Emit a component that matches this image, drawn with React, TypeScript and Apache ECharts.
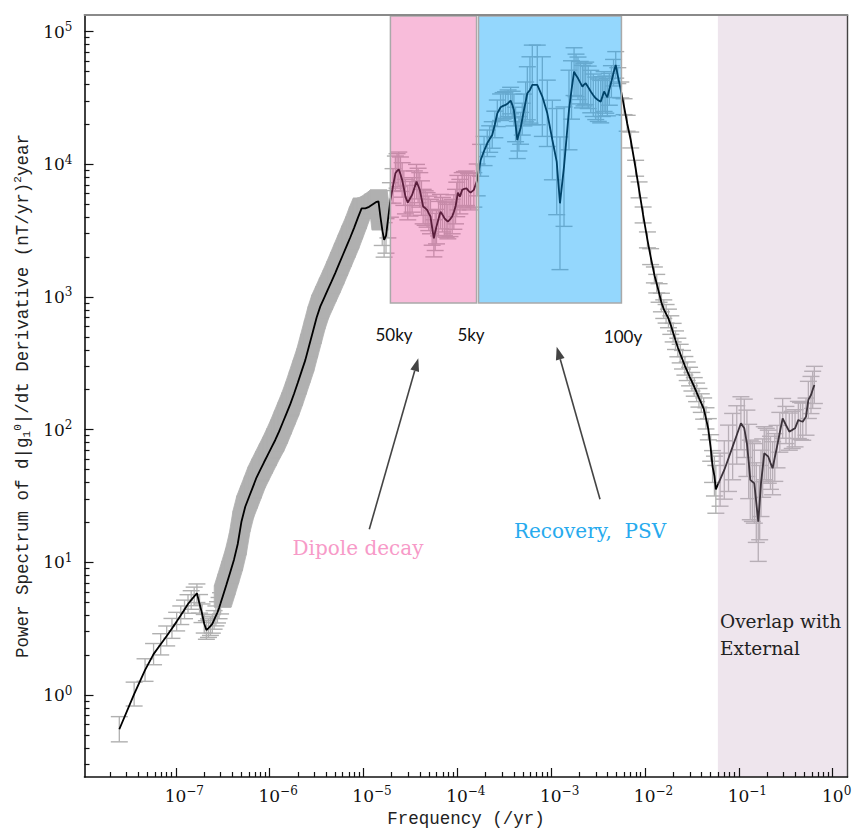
import React, { useEffect, useRef } from "react";
import * as echarts from "echarts";

// ---- Data (log10 of frequency in /yr, log10 of power, error half-width in decades) ----
const riseFreq = [
  -7.602, -7.444, -7.328, -7.237, -7.161, -7.097, -7.041, -6.991, -6.947, -6.907,
  -6.870, -6.836, -6.804, -6.775, -6.747, -6.721, -6.697, -6.674, -6.652, -6.631,
  -6.611, -6.592, -6.573, -6.556, -6.539, -6.523, -6.50, -6.46, -6.42, -6.38,
  -6.34, -6.30, -6.26, -6.22, -6.18, -6.14, -6.10, -6.06, -6.02, -5.98,
  -5.94, -5.90, -5.86, -5.82, -5.78, -5.74, -5.70, -5.66, -5.62, -5.58,
  -5.54, -5.50, -5.46, -5.42, -5.38, -5.34, -5.30, -5.26, -5.22, -5.18,
  -5.14, -5.10, -5.06, -5.02, -4.98, -4.94, -4.90, -4.86, -4.84, -4.82,
  -4.80, -4.78, -4.76, -4.74,
];
const risePower = [
  -0.258, 0.007, 0.188, 0.308, 0.382, 0.445, 0.502, 0.553, 0.601, 0.645,
  0.686, 0.716, 0.743, 0.767, 0.687, 0.616, 0.537, 0.490, 0.504, 0.519,
  0.536, 0.566, 0.596, 0.623, 0.655, 0.691, 0.743, 0.833, 0.926, 1.020,
  1.138, 1.308, 1.419, 1.492, 1.565, 1.639, 1.697, 1.754, 1.810, 1.866,
  1.922, 1.985, 2.054, 2.123, 2.192, 2.270, 2.354, 2.439, 2.524, 2.630,
  2.736, 2.843, 2.929, 2.992, 3.055, 3.117, 3.182, 3.249, 3.316, 3.383,
  3.450, 3.521, 3.596, 3.668, 3.668, 3.679, 3.698, 3.717, 3.720, 3.607,
  3.508, 3.430, 3.460, 3.575,
];
const riseErr = [
  0.095, 0.09, 0.085, 0.08, 0.08, 0.075, 0.075, 0.07, 0.07, 0.07,
  0.07, 0.07, 0.07, 0.07, 0.07, 0.07, 0.07, 0.07, 0.07, 0.07,
  0.07, 0.07, 0.075, 0.08, 0.08, 0.08, 0.08, 0.08, 0.08, 0.08,
  0.08, 0.08, 0.08, 0.08, 0.08, 0.08, 0.08, 0.08, 0.08, 0.08,
  0.085, 0.085, 0.085, 0.085, 0.085, 0.085, 0.085, 0.085, 0.085, 0.085,
  0.085, 0.085, 0.085, 0.085, 0.085, 0.085, 0.085, 0.085, 0.085, 0.085,
  0.085, 0.08, 0.08, 0.075, 0.075, 0.075, 0.075, 0.075, 0.085, 0.1,
  0.12, 0.13, 0.13, 0.13,
];

const dipoleFreq = [
  -4.713, -4.685, -4.660, -4.642, -4.624, -4.606, -4.588, -4.570, -4.553, -4.528,
  -4.505, -4.482, -4.458, -4.435, -4.418, -4.400, -4.382, -4.364, -4.343, -4.322,
  -4.304, -4.286, -4.268, -4.250, -4.236, -4.222, -4.200, -4.179, -4.158, -4.137,
  -4.119, -4.101, -4.078, -4.055, -4.037, -4.019, -4.006, -3.994, -3.973, -3.948,
  -3.925, -3.902, -3.880, -3.859, -3.824, -3.788, -3.752,
];
const dipolePower = [
  3.731, 3.837, 3.932, 3.950, 3.962, 3.925, 3.882, 3.820, 3.756, 3.711,
  3.740, 3.769, 3.820, 3.869, 3.840, 3.807, 3.745, 3.681, 3.670, 3.656,
  3.630, 3.606, 3.520, 3.442, 3.490, 3.530, 3.590, 3.643, 3.620, 3.593,
  3.580, 3.568, 3.585, 3.606, 3.640, 3.681, 3.735, 3.786, 3.756, 3.807,
  3.815, 3.819, 3.800, 3.786, 3.807, 3.882, 4.030,
];
const dipoleErr = [
  0.13, 0.13, 0.13, 0.13, 0.13, 0.13, 0.13, 0.13, 0.13, 0.13,
  0.13, 0.13, 0.13, 0.13, 0.13, 0.13, 0.13, 0.13, 0.13, 0.13,
  0.13, 0.13, 0.13, 0.14, 0.14, 0.13, 0.13, 0.13, 0.13, 0.13,
  0.13, 0.13, 0.13, 0.13, 0.13, 0.13, 0.13, 0.13, 0.13, 0.13,
  0.13, 0.13, 0.13, 0.13, 0.13, 0.12, 0.12,
];

const recoveryFreq = [
  -3.715, -3.681, -3.655, -3.628, -3.600, -3.574, -3.539, -3.512, -3.486, -3.459,
  -3.432, -3.415, -3.397, -3.379, -3.361, -3.344, -3.326, -3.308, -3.290, -3.272,
  -3.254, -3.226, -3.201, -3.148, -3.094, -3.041, -2.987, -2.941, -2.906, -2.863,
  -2.810, -2.783, -2.756, -2.735, -2.714, -2.690, -2.667, -2.650, -2.632, -2.605,
  -2.578, -2.551, -2.525, -2.498, -2.472, -2.454, -2.436, -2.418, -2.401, -2.380,
  -2.358, -2.335, -2.312,
];
const recoveryPower = [
  4.10, 4.158, 4.19, 4.221, 4.30, 4.384, 4.430, 4.44, 4.447, 4.46,
  4.480, 4.45, 4.409, 4.30, 4.183, 4.23, 4.271, 4.34, 4.409, 4.47,
  4.535, 4.560, 4.598, 4.598, 4.510, 4.384, 4.183, 4.020, 3.706, 3.982,
  4.409, 4.56, 4.698, 4.67, 4.648, 4.615, 4.585, 4.60, 4.610, 4.58,
  4.548, 4.52, 4.497, 4.483, 4.472, 4.51, 4.548, 4.525, 4.505, 4.565,
  4.623, 4.69, 4.749,
];
const recoveryErr = [
  0.11, 0.1, 0.1, 0.1, 0.1, 0.1, 0.1, 0.1, 0.1, 0.1,
  0.1, 0.1, 0.12, 0.13, 0.14, 0.13, 0.12, 0.12, 0.12, 0.15,
  0.2, 0.25, 0.3, 0.3, 0.3, 0.25, 0.3, 0.4, 0.5, 0.45,
  0.3, 0.22, 0.18, 0.16, 0.16, 0.16, 0.16, 0.16, 0.16, 0.16,
  0.16, 0.16, 0.16, 0.16, 0.16, 0.15, 0.15, 0.14, 0.14, 0.12,
  0.12, 0.1, 0.1,
];

const falloffFreq = [
  -2.290, -2.258, -2.223, -2.190, -2.152, -2.100, -2.063, -2.020, -1.974, -1.940,
  -1.900, -1.875, -1.850, -1.825, -1.800, -1.775, -1.750, -1.725, -1.700, -1.675,
  -1.650, -1.625, -1.600, -1.575, -1.550, -1.525, -1.500, -1.475, -1.450, -1.425,
  -1.400, -1.375, -1.350, -1.325, -1.300, -1.280, -1.260, -1.245,
];
const falloffPower = [
  4.668, 4.560, 4.434, 4.309, 4.183, 3.970, 3.807, 3.618, 3.430, 3.304,
  3.166, 3.100, 3.030, 2.958, 2.908, 2.873, 2.838, 2.788, 2.731, 2.674,
  2.619, 2.573, 2.527, 2.481, 2.440, 2.400, 2.361, 2.322, 2.281, 2.240,
  2.200, 2.159, 2.085, 2.003, 1.862, 1.722, 1.650, 1.550,
];
const falloffErr = [
  0.06, 0.06, 0.06, 0.06, 0.06, 0.06, 0.06, 0.06, 0.06, 0.06,
  0.06, 0.07, 0.07, 0.07, 0.07, 0.07, 0.07, 0.07, 0.07, 0.07,
  0.07, 0.07, 0.07, 0.07, 0.07, 0.07, 0.07, 0.07, 0.07, 0.07,
  0.07, 0.08, 0.08, 0.08, 0.1, 0.12, 0.15, 0.18,
];

const externalFreq = [
  -1.200, -1.155, -1.110, -1.066, -1.022, -0.978, -0.942, -0.914, -0.895, -0.878,
  -0.856, -0.835, -0.814, -0.793, -0.778, -0.764, -0.746, -0.729, -0.708, -0.686,
  -0.663, -0.640, -0.617, -0.593, -0.563, -0.533, -0.498, -0.462, -0.431, -0.401,
  -0.366, -0.343, -0.319, -0.284, -0.259, -0.231, -0.213, -0.195,
];
const externalPower = [
  1.623, 1.696, 1.784, 1.872, 1.960, 2.048, 2.010, 1.897, 1.760, 1.621,
  1.608, 1.595, 1.450, 1.307, 1.450, 1.595, 1.710, 1.822, 1.810, 1.796,
  1.750, 1.709, 1.790, 1.872, 1.980, 2.085, 2.035, 1.985, 1.998, 2.010,
  2.073, 2.065, 2.060, 2.098, 2.224, 2.261, 2.300, 2.337,
];
const externalErr = [
  0.2, 0.22, 0.25, 0.25, 0.22, 0.2, 0.22, 0.25, 0.28, 0.3,
  0.3, 0.3, 0.3, 0.3, 0.28, 0.25, 0.22, 0.2, 0.2, 0.2,
  0.2, 0.2, 0.18, 0.16, 0.15, 0.15, 0.14, 0.14, 0.14, 0.14,
  0.14, 0.14, 0.14, 0.14, 0.14, 0.14, 0.14, 0.14,
];

// Shaded bands (log10 units)
const regionNames = ["Dipole decay", "Recovery, PSV", "Overlap with External"];
const regionStart = [-4.713, -3.774, -1.223];
const regionEnd = [-3.795, -2.251, 0.158];
const regionLow = [2.955, 2.955, -0.618];
const regionHigh = [5.118, 5.118, 5.125];

// Tick labels (decade exponents)
const xDecades = [-7, -6, -5, -4, -3, -2, -1, 0];
const yDecades = [0, 1, 2, 3, 4, 5];

// ---- Layout / style ----
const X_MIN = -7.973;
const X_MAX = 0.158;
const Y_MIN = -0.618;
const Y_MAX = 5.125;
const SERIF = "DejaVu Serif";
const MONO = "Liberation Mono";
const SOLID_FROM = -6.5;
const SOLID_TO = -4.84;
const BAR_COLOR = "#b0b0b0";
const CAP_HALF = 8.5;

const regionFill = ["rgba(237,79,158,0.38)", "rgba(0,160,250,0.42)", "rgba(200,170,195,0.3)"];
const regionStroke = ["#a9a9a9", "#a9a9a9", "none"];

function minorTicks(lo: number, hi: number) {
  const out: number[] = [];
  for (let n = Math.floor(lo); n <= Math.ceil(hi); n++) {
    for (let k = 2; k <= 9; k++) {
      const v = n + Math.log10(k);
      if (v > lo && v < hi) out.push(v);
    }
  }
  return out;
}

// Convex hull (monotone chain) used to fill the envelope swept by two neighbouring error bars
function hull(pts: number[][]) {
  const p = pts.slice().sort((a, b) => (a[0] - b[0]) || (a[1] - b[1]));
  const cross = (o: number[], a: number[], b: number[]) =>
    (a[0] - o[0]) * (b[1] - o[1]) - (a[1] - o[1]) * (b[0] - o[0]);
  const lower: number[][] = [];
  for (const q of p) {
    while (lower.length >= 2 && cross(lower[lower.length - 2], lower[lower.length - 1], q) <= 0) lower.pop();
    lower.push(q);
  }
  const upper: number[][] = [];
  for (let i = p.length - 1; i >= 0; i--) {
    const q = p[i];
    while (upper.length >= 2 && cross(upper[upper.length - 2], upper[upper.length - 1], q) <= 0) upper.pop();
    upper.push(q);
  }
  upper.pop();
  lower.pop();
  return lower.concat(upper);
}

const supText = (n: number) => (n < 0 ? "\u2212" + Math.abs(n) : String(n));

const labelRich = {
  b: { fontFamily: SERIF, fontSize: 17, color: "#111" },
  s: { fontFamily: SERIF, fontSize: 12, color: "#111", padding: [0, 0, 9, 0] },
  p1: { fontFamily: SERIF, fontSize: 12, width: 8 },
  p2: { fontFamily: SERIF, fontSize: 12, width: 17 },
};

function arrow(x1: number, y1: number, x2: number, y2: number) {
  const dx = x2 - x1;
  const dy = y2 - y1;
  const L = Math.hypot(dx, dy);
  const ux = dx / L;
  const uy = dy / L;
  const hl = 13;
  const hw = 4.5;
  const bx = x2 - ux * hl;
  const by = y2 - uy * hl;
  return [
    { type: "line", z: 100, shape: { x1, y1, x2: bx, y2: by }, style: { stroke: "#444", lineWidth: 1.6 } },
    {
      type: "polygon",
      z: 100,
      shape: { points: [[x2, y2], [bx - uy * hw, by + ux * hw], [bx + uy * hw, by - ux * hw]] },
      style: { fill: "#444" },
    },
  ];
}

function txt(text: string, x: number, y: number, size: number, family: string, color: string, align = "center") {
  return {
    type: "text",
    z: 100,
    x,
    y,
    style: { text, fontSize: size, fontFamily: family, fill: color, align, verticalAlign: "middle" },
  };
}

function buildOption() {
  const freqs = [...riseFreq, ...dipoleFreq, ...recoveryFreq, ...falloffFreq, ...externalFreq];
  const powers = [...risePower, ...dipolePower, ...recoveryPower, ...falloffPower, ...externalPower];
  const errs = [...riseErr, ...dipoleErr, ...recoveryErr, ...falloffErr, ...externalErr];
  const n = freqs.length;
  const lineData = freqs.map((x, i) => [x, powers[i]]);
  const errData = freqs.map((x, i) => [x, powers[i] - errs[i], powers[i] + errs[i]]);
  const regionData = regionNames.map((name, i) => ({
    name,
    value: [regionStart[i], regionEnd[i], regionLow[i], regionHigh[i]],
  }));

  const axisLineDark = { show: true, onZero: false, lineStyle: { color: "#111", width: 1.6 } };
  const tickStyle = { color: "#111", width: 1.2 };

  return {
    animation: false,
    backgroundColor: "#fff",
    grid: { left: 84.5, right: 5.5, top: 15, bottom: 55, outerBoundsMode: "none" },
    xAxis: [
      {
        type: "value",
        position: "bottom",
        min: X_MIN,
        max: X_MAX,
        z: 10,
        splitLine: { show: false },
        axisLine: axisLineDark,
        axisTick: { show: true, inside: true, length: 9, customValues: xDecades, lineStyle: tickStyle },
        axisLabel: {
          show: true,
          customValues: xDecades,
          margin: 8,
          fontFamily: SERIF,
          fontSize: 17,
          color: "#111",
          formatter: (v: number) => {
            const e = Math.round(v);
            return `{${e < 0 ? "p2" : "p1"}| }{b|10}{s|${supText(e)}}`;
          },
          rich: labelRich,
        },
        name: "Frequency (/yr)",
        nameLocation: "middle",
        nameGap: 33,
        nameTextStyle: { fontFamily: MONO, fontSize: 17.5, color: "#222" },
      },
      {
        type: "value",
        position: "bottom",
        min: X_MIN,
        max: X_MAX,
        z: 10,
        splitLine: { show: false },
        axisLine: { show: false, onZero: false },
        axisTick: { show: true, inside: true, length: 5, customValues: minorTicks(X_MIN, X_MAX), lineStyle: tickStyle },
        axisLabel: { show: false },
      },
      {
        type: "value",
        position: "top",
        min: X_MIN,
        max: X_MAX,
        z: 10,
        splitLine: { show: false },
        axisLine: { show: true, onZero: false, lineStyle: { color: "#8a8a8a", width: 1.8 } },
        axisTick: { show: false },
        axisLabel: { show: false },
      },
    ],
    yAxis: [
      {
        type: "value",
        position: "left",
        min: Y_MIN,
        max: Y_MAX,
        z: 10,
        splitLine: { show: false },
        axisLine: axisLineDark,
        axisTick: { show: true, inside: true, length: 9, customValues: yDecades, lineStyle: tickStyle },
        axisLabel: {
          show: true,
          customValues: yDecades,
          margin: 12,
          fontFamily: SERIF,
          fontSize: 17,
          color: "#111",
          formatter: (v: number) => `{b|10}{s|${supText(Math.round(v))}}`,
          rich: labelRich,
        },
        name: "Power Spectrum of d|g{sb|1}{sp|0}|/dt Derivative (nT/yr){sp|2}year",
        nameLocation: "middle",
        nameRotate: 90,
        nameGap: 50,
        nameTextStyle: {
          fontFamily: MONO,
          fontSize: 17.5,
          color: "#222",
          rich: {
            sb: { fontFamily: MONO, fontSize: 11, color: "#222", padding: [8, 0, 0, 0] },
            sp: { fontFamily: MONO, fontSize: 11, color: "#222", padding: [0, 0, 9, 0] },
          },
        },
      },
      {
        type: "value",
        position: "left",
        min: Y_MIN,
        max: Y_MAX,
        z: 10,
        splitLine: { show: false },
        axisLine: { show: false, onZero: false },
        axisTick: { show: true, inside: true, length: 5, customValues: minorTicks(Y_MIN, Y_MAX), lineStyle: tickStyle },
        axisLabel: { show: false },
      },
      {
        type: "value",
        position: "right",
        min: Y_MIN,
        max: Y_MAX,
        z: 10,
        splitLine: { show: false },
        axisLine: { show: true, onZero: false, lineStyle: { color: "#444", width: 1.4 } },
        axisTick: { show: false },
        axisLabel: { show: false },
      },
    ],
    series: [
      {
        type: "custom",
        name: "error",
        z: 2,
        silent: true,
        data: errData,
        encode: { x: 0, y: [1, 2] },
        renderItem: (params: any, api: any) => {
          const i = params.dataIndex;
          const x = api.value(0);
          const lo = api.value(1);
          const hi = api.value(2);
          const pLo = api.coord([x, lo]);
          const pHi = api.coord([x, hi]);
          const px = pLo[0];
          const cap = { stroke: BAR_COLOR, lineWidth: 1.4 };
          const children: any[] = [
            { type: "line", shape: { x1: px, y1: pHi[1], x2: px, y2: pLo[1] }, style: { stroke: BAR_COLOR, lineWidth: 1.3 } },
            { type: "line", shape: { x1: px - CAP_HALF, y1: pHi[1], x2: px + CAP_HALF, y2: pHi[1] }, style: cap },
            { type: "line", shape: { x1: px - CAP_HALF, y1: pLo[1], x2: px + CAP_HALF, y2: pLo[1] }, style: cap },
          ];
          // where the measurements are too dense to separate, the bars merge into one band
          if (x >= SOLID_FROM && x <= SOLID_TO && i < n - 1) {
            const nx = errData[i + 1][0];
            const qLo = api.coord([nx, errData[i + 1][1]]);
            const qHi = api.coord([nx, errData[i + 1][2]]);
            const pts = [
              [px - CAP_HALF, pHi[1]], [px + CAP_HALF, pHi[1]], [px - CAP_HALF, pLo[1]], [px + CAP_HALF, pLo[1]],
              [qLo[0] - CAP_HALF, qHi[1]], [qLo[0] + CAP_HALF, qHi[1]], [qLo[0] - CAP_HALF, qLo[1]], [qLo[0] + CAP_HALF, qLo[1]],
            ];
            children.push({ type: "polygon", shape: { points: hull(pts) }, style: { fill: BAR_COLOR, stroke: BAR_COLOR, lineWidth: 0.8 } });
          }
          return { type: "group", children };
        },
      },
      {
        type: "line",
        name: "spectrum",
        z: 3,
        silent: true,
        data: lineData,
        showSymbol: false,
        symbol: "none",
        lineStyle: { color: "#000", width: 1.8 },
      },
      {
        type: "custom",
        name: "regions",
        z: 4,
        silent: true,
        data: regionData,
        encode: { x: [0, 1], y: [2, 3] },
        renderItem: (params: any, api: any) => {
          const i = params.dataIndex;
          const p0 = api.coord([api.value(0), api.value(3)]);
          const p1 = api.coord([api.value(1), api.value(2)]);
          return {
            type: "rect",
            shape: { x: p0[0], y: p0[1], width: p1[0] - p0[0], height: p1[1] - p0[1] },
            style: { fill: regionFill[i], stroke: regionStroke[i], lineWidth: 1.5 },
          };
        },
      },
    ],
    graphic: [
      ...arrow(369.3, 529.3, 418.3, 358.3),
      ...arrow(600, 499.3, 556.7, 346.7),
      txt("50ky", 394, 334, 17, "Lato", "#111"),
      txt("5ky", 471, 334, 17, "Lato", "#111"),
      txt("100y", 623, 336, 17, "Lato", "#111"),
      txt("Dipole decay", 358, 548, 20, SERIF, "#f79ac8"),
      txt("Recovery,  PSV", 590, 531, 20, SERIF, "#27aaee"),
      txt("Overlap with", 720, 621, 18.5, SERIF, "#222", "left"),
      txt("External", 720, 648, 18.5, SERIF, "#222", "left"),
    ],
  };
}

export default function App() {
  const ref = useRef<HTMLDivElement>(null);
  useEffect(() => {
    if (!ref.current) return;
    const chart = echarts.init(ref.current, undefined, { renderer: "svg" });
    chart.setOption(buildOption() as any);
    return () => chart.dispose();
  }, []);
  return (
    <div
      ref={ref}
      style={{ position: "fixed", left: 0, top: 0, width: 853, height: 832, background: "#fff" }}
    />
  );
}
